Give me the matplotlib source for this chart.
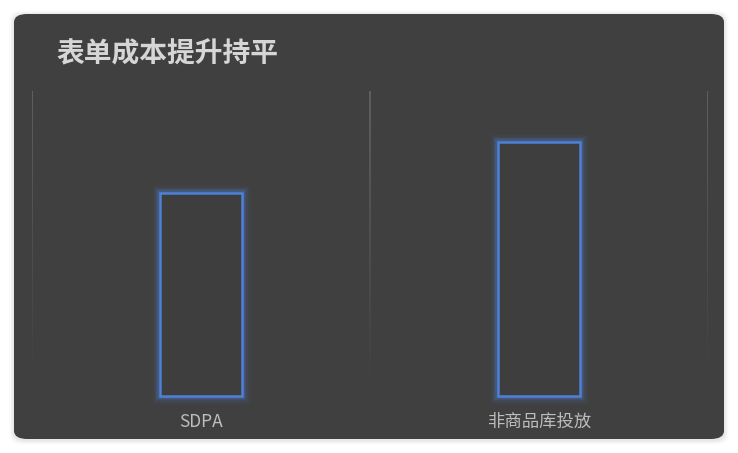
import numpy as np
import matplotlib.pyplot as plt
from matplotlib.patches import FancyBboxPatch
from matplotlib.collections import LineCollection

plt.rcParams['font.family'] = ['Noto Sans CJK SC', 'DejaVu Sans']

title = '表单成本提升持平'
categories = ['SDPA', '非商品库投放']
values = [4.0, 5.0]

W, H = 738, 453
fig = plt.figure(figsize=(W / 100, H / 100), dpi=100)
fig.patch.set_facecolor('white')

# card background with faint shadow
for i, a in enumerate([0.04, 0.03, 0.02]):
    d = (i + 1) * 1.5
    fig.patches.append(FancyBboxPatch(
        ((14 - d) / W, (14 - d - 1) / H), (710 + 2 * d) / W, (425 + 2 * d) / H,
        boxstyle='round,pad=0,rounding_size=0.018', transform=fig.transFigure,
        facecolor='black', edgecolor='none', alpha=a, zorder=-2))
fig.patches.append(FancyBboxPatch(
    (14 / W, 14 / H), 710 / W, 425 / H,
    boxstyle='round,pad=0,rounding_size=0.018', transform=fig.transFigure,
    facecolor='#404040', edgecolor='none', zorder=-1))

fig.text(56 / W, 1 - 53 / H, title, fontsize=20, fontweight='bold',
         color='#d6d6d6', va='center', ha='left', zorder=3)

ax = fig.add_axes([32 / W, 57 / H, 676 / W, 305 / H])
ax.set_zorder(5)
ax.set_facecolor('none')
x = np.arange(len(categories))
ax.set_xlim(-0.5, len(categories) - 0.5)
ax.set_ylim(0, 6)
for s in ax.spines.values():
    s.set_visible(False)
ax.set_yticks([])
ax.set_xticks(x)
ax.set_xticklabels(categories, fontsize=12.5, color='#bdbdbd')
ax.tick_params(axis='x', length=0, pad=12)

# fading category separators
n = 60
for gx in np.arange(-0.5, len(categories), 1.0):
    ys = np.linspace(6, 0.2, n + 1)
    segs = [[(gx, ys[i]), (gx, ys[i + 1])] for i in range(n)]
    alphas = np.linspace(0.6, 0.0, n)
    cols = [(0.47, 0.47, 0.47, a) for a in alphas]
    ax.add_collection(LineCollection(segs, colors=cols, linewidths=1.3, zorder=1))

# glowing outlined bars
blue = '#4f80d8'
for lw, a in [(11, 0.06), (8, 0.09), (6, 0.13), (4, 0.22)]:
    bars = ax.bar(x, values, width=0.24, fill=False, edgecolor=blue,
                  linewidth=lw, alpha=a, zorder=2)
    for b in bars:
        b.set_clip_on(False)
bars = ax.bar(x, values, width=0.24, facecolor='#3e3e3e', edgecolor=blue,
              linewidth=1.8, zorder=3)
for b in bars:
    b.set_clip_on(False)

fig.savefig('out.png', dpi=100, facecolor='white')
